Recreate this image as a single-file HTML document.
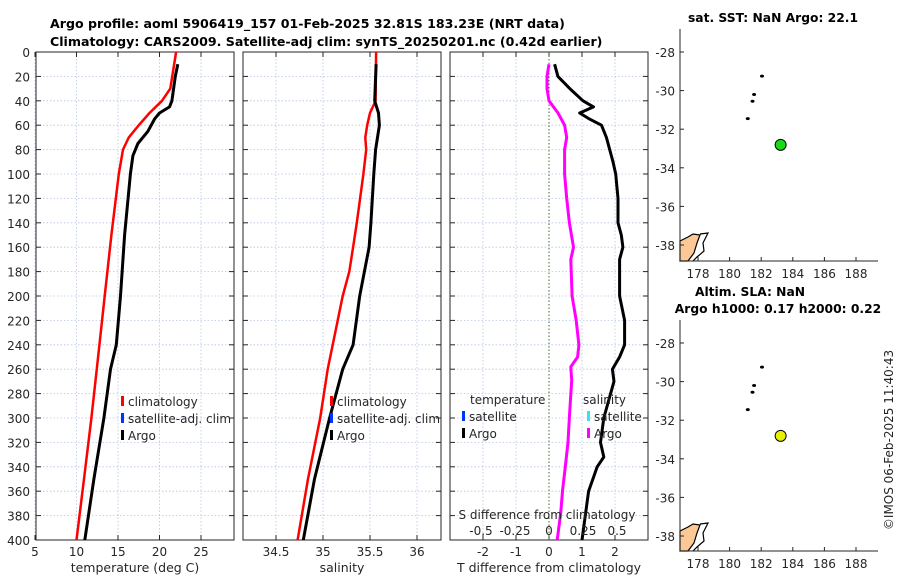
<!DOCTYPE html>
<html><head><meta charset="utf-8"><style>
body{margin:0;background:#fff;width:900px;height:580px;overflow:hidden}
svg text{font-family:"DejaVu Sans","Liberation Sans",sans-serif;fill:#262626}
</style></head><body>
<svg id="fig" width="900" height="580" xmlns="http://www.w3.org/2000/svg">
<text x="50" y="28" font-size="12.6" font-weight="bold" style="fill:#000">Argo profile: aoml 5906419_157 01-Feb-2025 32.81S 183.23E (NRT data)</text>
<text x="50" y="46" font-size="12.6" font-weight="bold" style="fill:#000">Climatology: CARS2009. Satellite-adj clim: synTS_20250201.nc (0.42d earlier)</text>
<text x="773" y="22" font-size="12.3" font-weight="bold" text-anchor="middle" style="fill:#000">sat. SST: NaN Argo: 22.1</text>
<text x="750" y="296" font-size="12.3" font-weight="bold" text-anchor="middle" style="fill:#000">Altim. SLA: NaN</text>
<text x="778" y="313" font-size="12.3" font-weight="bold" text-anchor="middle" style="fill:#000">Argo h1000: 0.17 h2000: 0.22</text>
<text transform="translate(893,440) rotate(-90)" font-size="12" text-anchor="middle">©IMOS 06-Feb-2025 11:40:43</text>
<g id="plots"></g>
</svg>
<script>
const tDepth=[0,30,40,50,60,70,80,100,150,200,250,300,350,400];
const tClim=[22,21.3,20.3,18.8,17.5,16.3,15.6,15.1,14.2,13.4,12.6,11.8,10.9,10.0];
const argoDepth=[10,20,40,45,50,55,65,75,85,100,150,200,240,260,300,350,400];
const tArgo=[22.2,21.9,21.5,21.2,20.0,19.4,18.6,17.4,16.8,16.5,15.8,15.3,14.8,14.1,13.3,12.1,11.0];
const sClimDepth=[0,40,50,60,70,80,100,140,160,180,200,260,300,350,400];
const sClim=[35.565,35.56,35.5,35.47,35.45,35.46,35.43,35.36,35.32,35.28,35.21,35.05,34.97,34.84,34.73];
const sArgoDepth=[10,40,50,60,80,100,140,160,180,200,240,260,300,350,400];
const sArgo=[35.565,35.55,35.59,35.6,35.56,35.54,35.51,35.49,35.44,35.39,35.32,35.21,35.07,34.91,34.79];
const tDiffDepth=[10,20,30,40,45,50,55,60,70,80,90,100,120,140,150,160,170,200,220,240,250,260,270,300,320,332,340,360,380,400];
const tDiff=[0.17,0.27,0.63,1.03,1.35,0.93,1.23,1.59,1.74,1.84,1.94,2.02,2.09,2.09,2.19,2.24,2.14,2.14,2.29,2.29,2.14,1.92,1.97,1.66,1.56,1.66,1.46,1.2,1.1,1.0];
const sDiffDepth=[10,20,30,40,50,60,70,80,100,120,140,160,170,200,220,240,250,258,269,299,320,340,359,378,400];
const sDiff=[0,-0.015,-0.015,0,0.066,0.115,0.13,0.115,0.115,0.13,0.15,0.18,0.16,0.17,0.2,0.22,0.21,0.16,0.167,0.15,0.14,0.12,0.10,0.086,0.06];
const depthTicks=[0,20,40,60,80,100,120,140,160,180,200,220,240,260,280,300,320,340,360,380,400];
const tTicks=[5,10,15,20,25];
const sTicks=[34.5,35,35.5,36];
const dTTicks=[-2,-1,0,1,2];
const dSTicks=[-0.5,-0.25,0,0.25,0.5];
const dSTickLabels=["-0.5","-0.25","0","0.25","0.5"];
const latTicks=[-28,-30,-32,-34,-36,-38];
const lonTicks=[178,180,182,184,186,188];
const floatPos=[183.23,-32.81];
const islands=[[182.05,-29.25],[181.55,-30.2],[181.45,-30.55],[181.15,-31.45]];

const NS="http://www.w3.org/2000/svg";
const root=document.getElementById('plots');
function mk(tag,attrs,parent){const e=document.createElementNS(NS,tag);for(const k in attrs)e.setAttribute(k,attrs[k]);(parent||root).appendChild(e);return e;}
const Y0=52,Y1=540;
const yD=d=>Y0+(d/400)*(Y1-Y0);
function lin(d0,d1,p0,p1){return v=>p0+(v-d0)/(d1-d0)*(p1-p0);}

function panel(x0,x1,xs,ticks,labels,showY,name){
  const g=mk('g',{});
  
  
  ticks.forEach(t=>{const x=xs(t);mk('line',{x1:x,x2:x,y1:Y0,y2:Y1,stroke:'#b8c4e6','stroke-dasharray':'1.5,2','stroke-width':0.8},g);});
  depthTicks.forEach(d=>{const y=yD(d);mk('line',{x1:x0,x2:x1,y1:y,y2:y,stroke:'#b8c4e6','stroke-dasharray':'1.5,2','stroke-width':0.8},g);
    mk('line',{x1:x0,x2:x0+5,y1:y,y2:y,stroke:'#262626'},g);mk('line',{x1:x1-5,x2:x1,y1:y,y2:y,stroke:'#262626'},g);
    if(showY){const t=mk('text',{x:x0-6,y:y+5,'font-size':12,'text-anchor':'end'},g);t.textContent=d;}});
  ticks.forEach((t,i)=>{const x=xs(t);mk('line',{x1:x,x2:x,y1:Y1,y2:Y1-5,stroke:'#262626'},g);mk('line',{x1:x,x2:x,y1:Y0,y2:Y0+5,stroke:'#262626'},g);
    const tx=mk('text',{x:x,y:Y1+16,'font-size':12,'text-anchor':'middle'},g);tx.textContent=labels[i];});
  mk('rect',{x:x0,y:Y0,width:x1-x0,height:Y1-Y0,fill:'none',stroke:'#262626','stroke-width':1},g);
  return g;
}
function line(g,xs,vals,deps,color,w,name){
  const pts=vals.map((v,i)=>xs(v).toFixed(1)+','+yD(deps[i]).toFixed(1)).join(' ');
  const p=mk('polyline',{points:pts,fill:'none',stroke:color,'stroke-width':w,'stroke-linejoin':'round'},g);
  
  
}
function legend(g,x,y,items){
  items.forEach((it,i)=>{const yy=y+i*17;mk('rect',{x:x,y:yy-10,width:3,height:10,fill:it[1]},g);
    const t=mk('text',{x:x+7,y:yy,'font-size':12},g);t.textContent=it[0];});
}
const xT=lin(5,25,35,201);
const p1=panel(36,234,xT,tTicks,tTicks.map(String),true,'temperature-panel');
line(p1,xT,tClim,tDepth,'#ff0000',2.5,'temperature-climatology-line');
line(p1,xT,tArgo,argoDepth,'#000',3,'temperature-argo-line');
legend(p1,121,406,[['climatology','#ff0000'],['satellite-adj. clim','#0033ff'],['Argo','#000']]);
{const t=mk('text',{x:135,y:572,'font-size':12.5,'text-anchor':'middle'});t.textContent='temperature (deg C)';}
const xS=lin(34.5,36,276,417);
const p2=panel(243,441,xS,sTicks,['34.5','35','35.5','36'],false,'salinity-panel');
line(p2,xS,sClim,sClimDepth,'#ff0000',2.5,'salinity-climatology-line');
line(p2,xS,sArgo,sArgoDepth,'#000',3,'salinity-argo-line');
legend(p2,330,406,[['climatology','#ff0000'],['satellite-adj. clim','#0033ff'],['Argo','#000']]);
{const t=mk('text',{x:342,y:572,'font-size':12.5,'text-anchor':'middle'});t.textContent='salinity';}
const xdT=lin(-2,2,483,615);
const xdS=lin(-0.5,0.5,481,617);
const p3=panel(450,648,xdT,dTTicks,dTTicks.map(String),false,'difference-panel');
mk('line',{x1:xdT(0),x2:xdT(0),y1:Y0,y2:Y1,stroke:'#3a6b2a','stroke-dasharray':'1.5,2'},p3);
line(p3,xdS,sDiff,sDiffDepth,'#ff00ff',3,'salinity-difference-line');
line(p3,xdT,tDiff,tDiffDepth,'#000',3,'temperature-difference-line');
{const t=mk('text',{x:470,y:404,'font-size':12},p3);t.textContent='temperature';
 const t2=mk('text',{x:583,y:404,'font-size':12},p3);t2.textContent='salinity';}
legend(p3,462,421,[['satellite','#0033ff'],['Argo','#000']]);
legend(p3,587,421,[['satellite','#33e6e6'],['Argo','#ff00ff']]);
{const t=mk('text',{x:547,y:519,'font-size':12,'text-anchor':'middle'},p3);t.textContent='S difference from climatology';}
dSTicks.forEach((v,i)=>{const t=mk('text',{x:xdS(v),y:535,'font-size':12,'text-anchor':'middle'},p3);t.textContent=dSTickLabels[i];});
{const t=mk('text',{x:549,y:572,'font-size':12.5,'text-anchor':'middle'});t.textContent='T difference from climatology';}
function map(top,bottom,latY28,color,name){
  const g=mk('g',{});
  
  
  const xl=lin(178,188,698,856), yl=lin(-28,-38,latY28,latY28+193);
  mk('path',{d:`M680 ${bottom} L680 ${bottom-20} L688 ${bottom-24} L693 ${bottom-27} L700 ${bottom-26} L697 ${bottom-18} L694 ${bottom-8} L688 ${bottom} Z`,fill:'#fcc896',stroke:'#000','stroke-width':1.2},g);
  mk('path',{d:`M700 ${bottom-27} L708 ${bottom-28} L703 ${bottom-18} L704 ${bottom-10} L697 ${bottom-4} L693 ${bottom}`,fill:'none',stroke:'#000','stroke-width':1.2},g);
  islands.forEach(p=>mk('ellipse',{cx:xl(p[0]),cy:yl(p[1]),rx:2,ry:1.5,fill:'#000'},g));
  mk('line',{x1:680,x2:680,y1:top,y2:bottom,stroke:'#262626'},g);
  mk('line',{x1:680,x2:878,y1:bottom,y2:bottom,stroke:'#262626'},g);
  latTicks.forEach(v=>{const y=yl(v);mk('line',{x1:680,x2:684,y1:y,y2:y,stroke:'#262626'},g);const t=mk('text',{x:675,y:y+5,'font-size':12,'text-anchor':'end'},g);t.textContent=v;});
  lonTicks.forEach(v=>{const x=xl(v);mk('line',{x1:x,x2:x,y1:bottom,y2:bottom-4,stroke:'#262626'},g);const t=mk('text',{x:x,y:bottom+17,'font-size':12,'text-anchor':'middle'},g);t.textContent=v;});
  const c=mk('circle',{cx:xl(floatPos[0]),cy:yl(floatPos[1]),r:5.5,fill:color,stroke:'#000','stroke-width':1},g);
  
  
}
map(29,261,52,'#19d919','sst-map');
map(320,551,343,'#e6f000','sla-map');
</script>
</body></html>
